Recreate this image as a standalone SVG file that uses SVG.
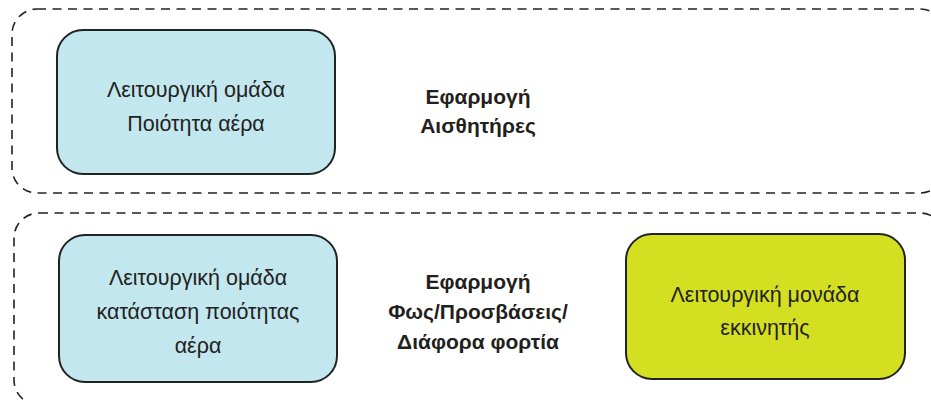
<svg xmlns="http://www.w3.org/2000/svg" width="931" height="401" viewBox="0 0 931 401">
<style>
.grp{fill:none;stroke:#222;stroke-width:1.6;stroke-dasharray:9 6.5}
.box{stroke:#222;stroke-width:2}
.blue{fill:#c3e7ef}
.yellow{fill:#d5df22}
.t{font-family:"Liberation Sans",Arial,sans-serif;font-size:21.5px;fill:#231f20;text-anchor:middle}
.b{font-family:"Liberation Sans",Arial,sans-serif;font-size:21px;font-weight:bold;fill:#231f20;text-anchor:middle}
</style>
<g id="connectors"></g>
<g id="group-top">
<rect class="grp" x="12" y="9" width="933" height="184" rx="25"/>
</g>
<g id="group-bottom">
<rect class="grp" x="14" y="213" width="931" height="192" rx="25"/>
</g>
<g id="node-air-quality">
<rect class="box blue" x="57" y="30" width="278" height="144" rx="26"/>
<text class="t" x="196" y="97">Λειτουργική ομάδα</text>
<text class="t" x="196" y="131">Ποιότητα αέρα</text>
</g>
<g id="label-app-sensors">
<text class="b" x="478" y="104">Εφαρμογή</text>
<text class="b" x="478" y="133">Αισθητήρες</text>
</g>
<g id="node-air-quality-state">
<rect class="box blue" x="59" y="235" width="278" height="147" rx="26"/>
<text class="t" x="198" y="285">Λειτουργική ομάδα</text>
<text class="t" x="198" y="319">κατάσταση ποιότητας</text>
<text class="t" x="198" y="353">αέρα</text>
</g>
<g id="label-app-lights">
<text class="b" x="478" y="289">Εφαρμογή</text>
<text class="b" x="478" y="319">Φως/Προσβάσεις/</text>
<text class="b" x="478" y="349">Διάφορα φορτία</text>
</g>
<g id="node-actuator">
<rect class="box yellow" x="626" y="234" width="279" height="145" rx="26"/>
<text class="t" x="765" y="302">Λειτουργική μονάδα</text>
<text class="t" x="765" y="335">εκκινητής</text>
</g>
</svg>
